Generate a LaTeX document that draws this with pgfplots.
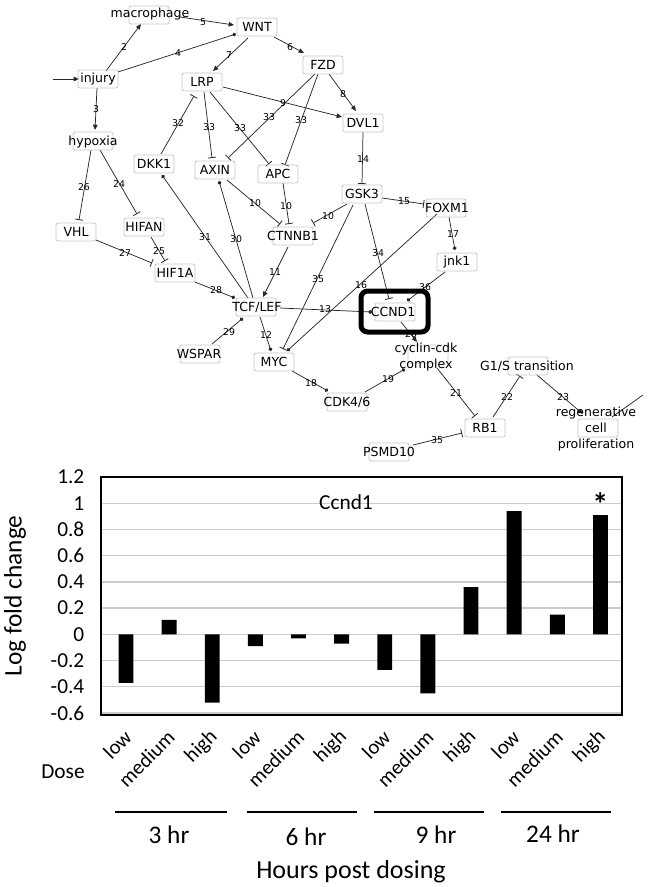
\documentclass[border=0pt]{standalone}
\usepackage{pgfplots}
\pgfplotsset{compat=1.18}
\usepackage{fontspec}
\setmainfont{Carlito}
\newfontfamily\netfont{DejaVu Sans}
\usetikzlibrary{arrows.meta}

\begin{document}
\begin{tikzpicture}[
  box/.style={draw=black!22, rounded corners=1.5pt, line width=0.6pt, minimum width=30pt, minimum height=13.5pt, inner sep=0pt},
  lab/.style={font=\netfont\fontsize{9.4}{11.8}\selectfont, inner sep=0pt, align=center},
  num/.style={font=\netfont\fontsize{7}{8}\selectfont, inner sep=0pt},
  e/.style={line width=0.55pt, draw=black!85},
  act/.style={e, -{Triangle[length=4pt,width=3.4pt]}},
  inh/.style={e, -{Bar[width=6pt, line width=0.6pt]}},
  dot/.style={e, -{Circle[length=2.8pt]}},
]
\useasboundingbox (0,0) rectangle (486pt,-665.25pt);
% ---------------- canvas (network + annotations), px coordinates ----------------
\begin{axis}[at={(0pt,0pt)}, anchor=north west, scale only axis,
  width=486pt, height=665.25pt, xmin=0, xmax=648, ymin=0, ymax=887,
  y dir=reverse, hide axis, clip=false, enlargelimits=false]
% edges
\draw[act] (53,79) -- (79,79);
\draw[act] (106,71) -- (141,24);
\draw[dot] (118,72) -- (236,34);
\draw[act] (180,17) -- (234,25);
\draw[act] (274,37) -- (304,53);
\draw[act] (248,38) -- (213,71);
\draw[act] (97,88) -- (95,130);
\draw[act] (329,74) -- (356,111);
\draw[act] (223,87) -- (342,117);
\draw[inh] (204,92) -- (212,158);
\draw[inh] (210,92) -- (269,164);
\draw[inh] (315,74) -- (228,158);
\draw[inh] (318,74) -- (285,165);
\draw[inh] (161,154) -- (194,96);
\draw[inh] (363,132) -- (362,184);
\draw[inh] (382,198) -- (424,204);
\draw[inh] (347,204) -- (313,223);
\draw[inh] (227,180) -- (280,224);
\draw[inh] (283,183) -- (289,224);
\draw[inh] (91,150) -- (79,220);
\draw[inh] (100,150) -- (137,214);
\draw[inh] (96,240) -- (152,263);
\draw[inh] (151,237) -- (165,261);
\draw[dot] (248,298) -- (162,175);
\draw[dot] (253,298) -- (219,181);
\draw[act] (288,247) -- (263,297);
\draw[dot] (195,282) -- (235,298);
\draw[dot] (212,344) -- (243,318);
\draw[dot] (260,317) -- (271,351);
\draw[dot] (280,308) -- (372,312);
\draw[inh] (353,205) -- (283,349);
\draw[dot] (437,214) -- (287,351);
\draw[inh] (365,204) -- (389,299);
\draw[dot] (449,217) -- (455,250);
\draw[dot] (445,272) -- (407,301);
\draw[act] (401,322) -- (417,342);
\draw[dot] (292,371) -- (328,391);
\draw[dot] (365,392) -- (405,369);
\draw[inh] (437,368) -- (475,416);
\draw[inh] (493,417) -- (520,376);
\draw[act] (537,375) -- (583,414);
\draw[inh] (413,445) -- (462,433);
\draw[e] (612,417) -- (643,395);
% edge numbers
\node[num] at (124,47) {2};
\node[num] at (178,53) {4};
\node[num] at (203,22) {5};
\node[num] at (290,47) {6};
\node[num] at (229,55) {7};
\node[num] at (96,109) {3};
\node[num] at (343,94) {8};
\node[num] at (283,103) {9};
\node[num] at (209,127) {33};
\node[num] at (240,128) {33};
\node[num] at (269,117) {33};
\node[num] at (301,120) {33};
\node[num] at (178,123) {32};
\node[num] at (363,159) {14};
\node[num] at (404,201) {15};
\node[num] at (328,216) {10};
\node[num] at (255,203) {10};
\node[num] at (286,206) {10};
\node[num] at (84,187) {26};
\node[num] at (119,184) {24};
\node[num] at (125,253) {27};
\node[num] at (159,251) {25};
\node[num] at (205,237) {31};
\node[num] at (236,239) {30};
\node[num] at (275,272) {11};
\node[num] at (216,290) {28};
\node[num] at (318,279) {35};
\node[num] at (325,309) {13};
\node[num] at (229,332) {29};
\node[num] at (266,335) {12};
\node[num] at (311,383) {18};
\node[num] at (378,253) {34};
\node[num] at (361,285) {16};
\node[num] at (453,234) {17};
\node[num] at (425,287) {36};
\node[num] at (411,334) {20};
\node[num] at (388,379) {19};
\node[num] at (456,393) {21};
\node[num] at (507,397) {22};
\node[num] at (563,397) {23};
\node[num] at (437,440) {35};
% node boxes
\node[box] at (257,27) {};
\node[box] at (98,79) {};
\node[box] at (323,65) {};
\node[box] at (202,82) {};
\node[box] at (363,123) {};
\node[box] at (154,164) {};
\node[box] at (215,170) {};
\node[box] at (278,174) {};
\node[box] at (362,194) {};
\node[box] at (446,208) {};
\node[box] at (76,232) {};
\node[box] at (144,227) {};
\node[box] at (293,236) {};
\node[box] at (175,273) {};
\node[box] at (457,262) {};
\node[box] at (256,307) {};
\node[box] at (395,312) {};
\node[box] at (200,354) {};
\node[box] at (274,362) {};
\node[box] at (347,402) {};
\node[box] at (485,428) {};
\node[box] at (389,452) {};
\node[box] at (149,15) {};
\node[box] at (93,141) {};
\node[box] at (428,354) {};
\node[box] at (528,366) {};
\node[box] at (598,428) {};
% node texts
\node[lab] at (150,14) {macrophage};
\node[lab] at (257,27) {WNT};
\node[lab] at (98,79) {injury};
\node[lab] at (323,65) {FZD};
\node[lab] at (202,82) {LRP};
\node[lab] at (363,123) {DVL1};
\node[lab] at (93,142) {hypoxia};
\node[lab] at (154,164) {DKK1};
\node[lab] at (215,170) {AXIN};
\node[lab] at (278,174) {APC};
\node[lab] at (362,194) {GSK3};
\node[lab] at (447,208) {FOXM1};
\node[lab] at (76,232) {VHL};
\node[lab] at (144,227) {HIFAN};
\node[lab] at (293,236) {CTNNB1};
\node[lab] at (175,273) {HIF1A};
\node[lab] at (457,262) {jnk1};
\node[lab] at (257,307) {TCF/LEF};
\node[lab] at (393,312) {CCND1};
\node[lab] at (199,354) {WSPAR};
\node[lab] at (274,362) {MYC};
\node[lab] at (426,357) {cyclin-cdk\\complex};
\node[lab] at (527,366) {G1/S transition};
\node[lab] at (347,402) {CDK4/6};
\node[lab] at (485,428) {RB1};
\node[lab] at (596,429) {regenerative\\cell\\proliferation};
\node[lab] at (389,452) {PSMD10};
% highlight frame
\draw[line width=3.75pt, rounded corners=5pt] (361,291) rectangle (428,332);
% bar chart annotations
\node[font=\fontsize{16}{18}\selectfont] at (63,772) {Dose};
\draw[line width=1.5pt] (115,812) -- (227,812);
\draw[line width=1.5pt] (247,812) -- (357,812);
\draw[line width=1.5pt] (374,812) -- (484,812);
\draw[line width=1.5pt] (501,812) -- (611,812);
\node[font=\fontsize{19}{21}\selectfont] at (169,835) {3 hr};
\node[font=\fontsize{19}{21}\selectfont] at (306,837) {6 hr};
\node[font=\fontsize{19}{21}\selectfont] at (436,835) {9 hr};
\node[font=\fontsize{19}{21}\selectfont] at (553,834) {24 hr};
\node[font=\fontsize{19.5}{21}\selectfont] at (351,872) {Hours post dosing};
\end{axis}
% ---------------- bar chart ----------------
\begin{axis}[at={(75.75pt,-357.75pt)}, anchor=north west, scale only axis,
  width=390.75pt, height=178.5pt,
  xmin=-0.58, xmax=11.5, ymin=-0.615, ymax=1.2,
  ytick={-0.6,-0.4,-0.2,0,0.2,0.4,0.6,0.8,1,1.2},
  yticklabels={-0.6,-0.4,-0.2,0,0.2,0.4,0.6,0.8,1,1.2},
  ymajorgrids, major grid style={draw=black!20, line width=1pt},
  major tick length=0pt,
  axis line style={line width=1.1pt},
  yticklabel style={font=\fontsize{16}{18}\selectfont, xshift=-9pt},
  ylabel={Log fold change},
  ylabel style={font=\fontsize{19}{22}\selectfont, at={(axis description cs:-0.165,0.5)}, anchor=center},
  xtick={0.05,1.05,2.05,3.05,4.05,5.05,6.05,7.05,8.05,9.05,10.05,11.05},
  xticklabels={low,medium,high,low,medium,high,low,medium,high,low,medium,high},
  xticklabel style={yshift=-14pt, rotate=45, anchor=east, inner sep=0pt, font=\fontsize{15.5}{17}\selectfont},
]
\addplot[ybar, bar width=0.345, fill=black, draw=none] coordinates {
(0,-0.37) (1,0.11) (2,-0.52) (3,-0.09) (4,-0.03) (5,-0.07)
(6,-0.27) (7,-0.45) (8,0.36) (9,0.94) (10,0.15) (11,0.91)};
\node[font=\fontsize{16}{18}\selectfont] at (axis cs:5.1,1.01) {Ccnd1};
\node[font=\fontsize{24}{26}\selectfont\bfseries] at (axis cs:11,0.99) {*};
\end{axis}
\end{tikzpicture}
\end{document}
